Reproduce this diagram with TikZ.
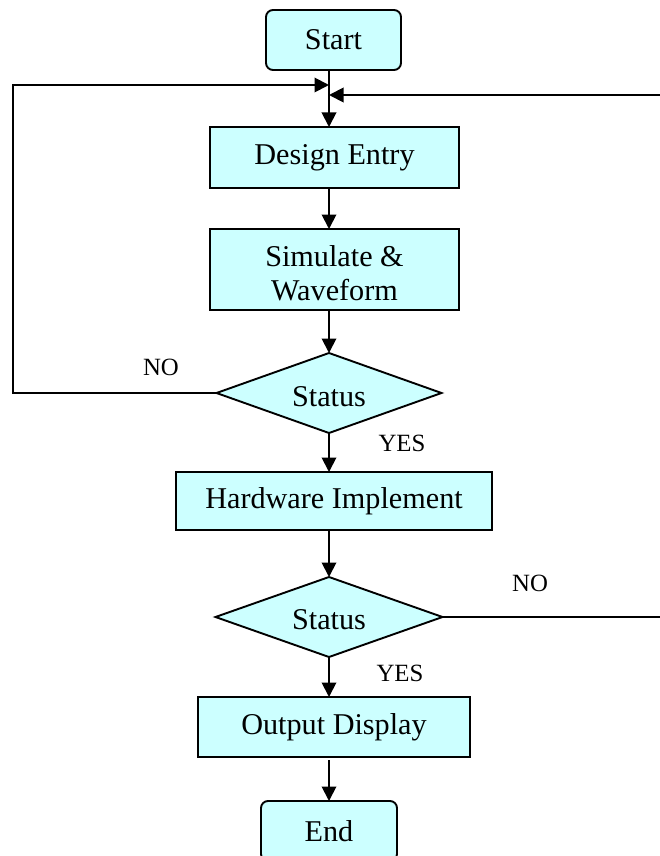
\documentclass[tikz,border=0pt]{standalone}
\usepackage{fontspec}
\setmainfont{Liberation Serif}
\usetikzlibrary{arrows.meta,shapes.geometric}
\definecolor{boxfill}{RGB}{204,255,255}
\begin{document}
\begin{tikzpicture}[x=1pt,y=-1pt,
  every node/.style={inner sep=0pt, outer sep=0pt},
  shapebase/.style={draw=black, line width=1.9pt, fill=boxfill},
  procbox/.style={shapebase, rectangle, font=\fontsize{30.2}{36}\selectfont},
  termbox/.style={shapebase, rectangle, rounded corners=7pt, font=\fontsize{30.2}{36}\selectfont},
  decbox/.style={shapebase, diamond, aspect=2.8},
  maintext/.style={font=\fontsize{30.2}{36}\selectfont},
  lbl/.style={font=\fontsize{24.8}{29}\selectfont},
  flow/.style={line width=1.9pt, -{Triangle[length=14.5pt,width=14.5pt]}}
]
\clip (0,0) rectangle (660,856);
\fill[white] (0,0) rectangle (660,856);

% process blocks
\node[termbox, minimum width=135pt, minimum height=60pt] (start) at (333.5,40) {Start};
\node[procbox, minimum width=249pt, minimum height=61pt] (design) at (334.5,157.5) {Design Entry};
\node[procbox, minimum width=249pt, minimum height=81pt] (sim) at (334.5,269.5) {};
\begin{scope}
  \clip (210,229) rectangle (459,302);
  \node[maintext, anchor=base] (simA) at (334.5,266.5) {Simulate \&};
  \node[maintext, anchor=base] (simB) at (334.5,300.5) {Waveform};
\end{scope}
\node[decbox, minimum width=225pt, minimum height=80pt] (d1) at (329,393) {};
\node[maintext] (d1t) at (329,397) {Status};
\node[procbox, minimum width=316pt, minimum height=58pt] (hw) at (334,501) {Hardware Implement};
\node[decbox, minimum width=227pt, minimum height=80pt] (d2) at (329,617) {};
\node[maintext] (d2t) at (329,620) {Status};
\node[procbox, minimum width=272pt, minimum height=60pt] (out) at (334,727) {Output Display};
\node[termbox, minimum width=136pt, minimum height=60pt] (end) at (329,831) {End};

% branch labels
\node[lbl] (no1) at (161,367) {NO};
\node[lbl] (yes1) at (402,443) {YES};
\node[lbl] (no2) at (530,583) {NO};
\node[lbl] (yes2) at (400,673) {YES};

% feedback entry points on the main line
\coordinate (inA) at (329,85);
\coordinate (inB) at (329,95);
\coordinate (lft) at (13,0);
\coordinate (rgt) at (664,0);

% main flow
\draw[flow] (start.south -| d1.north) -- (design.north -| d1.north);
\draw[flow] (design.south -| d1.north) -- (sim.north -| d1.north);
\draw[flow] (sim.south -| d1.north) -- (d1.north);
\draw[flow] (d1.south) -- (hw.north -| d1.south);
\draw[flow] (hw.south -| d1.south) -- (d2.north);
\draw[flow] (d2.south) -- (out.north -| d2.south);
\draw[flow, shorten <=3pt] (out.south -| d2.south) -- (end.north);

% feedback loops
\draw[flow] (d1.west) -| (lft |- inA) -- (inA);
\draw[flow] (d2.east) -| (rgt |- inB) -- (inB);
\end{tikzpicture}
\end{document}
